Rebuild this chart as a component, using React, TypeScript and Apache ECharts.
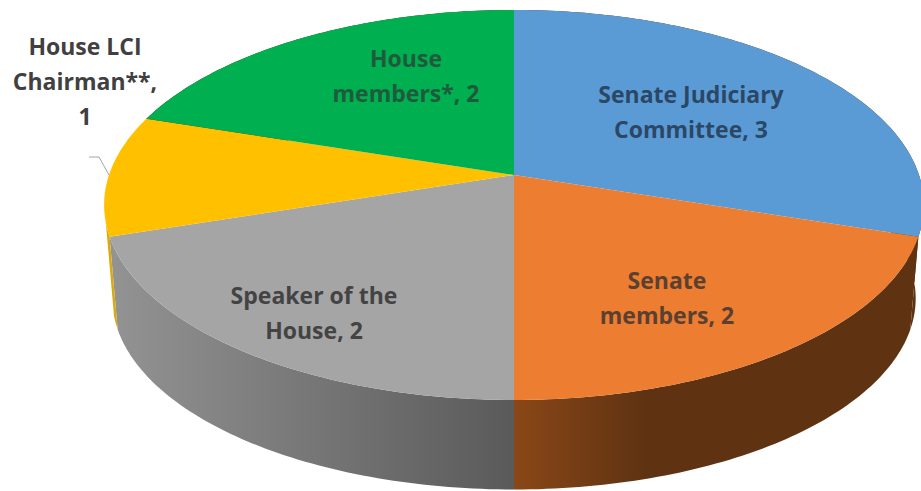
import React, { useEffect, useRef } from "react";
import * as echarts from "echarts";

const categories = [
  "Senate Judiciary Committee",
  "Senate members",
  "Speaker of the House",
  "House LCI Chairman**",
  "House members*",
];
const seats = [3, 2, 2, 1, 2];

const topColors = ["#5b9bd5", "#ed7d31", "#a5a5a5", "#ffc000", "#00b050"];

// Wrapped label text, one entry per slice.
const labelLines = [
  ["Senate Judiciary", "Committee, 3"],
  ["Senate", "members, 2"],
  ["Speaker of the", "House, 2"],
  ["House LCI", "Chairman**,", "1"],
  ["House", "members*, 2"],
];
const labelAnchors = [
  [691, 111],
  [667, 297],
  [314, 312],
  [85, 81],
  [406, 75],
];
const labelInks = [
  "#2b4766",
  "#5a4031",
  "#434343",
  "#404040",
  "#1f5a3c",
];

// Perspective model of the tilted disc: the near rim is magnified, the far rim shrunk.
const CX = 514;
const CY = 175;
const RX = 405;
const RY = 190.4;
const PERSPECTIVE = 0.1538;
// The underside of the disc sits lower and is very slightly smaller.
const DEPTH = 94;
const UNDER_SCALE = 0.98;

const total = seats.reduce((a, b) => a + b, 0);
const startShare = seats.map((_, i) =>
  seats.slice(0, i).reduce((a, b) => a + b, 0) / total
);

function rimPoint(deg: number, under = false): number[] {
  const a = (deg * Math.PI) / 180;
  const near = -Math.cos(a);
  const w = 1 - PERSPECTIVE * near;
  const s = under ? UNDER_SCALE : 1;
  return [
    CX + (s * RX * Math.sin(a)) / w,
    CY + (under ? DEPTH : 0) + (s * RY * near) / w,
  ];
}

function arcPoints(from: number, to: number, under = false): number[][] {
  const pts: number[][] = [];
  const steps = Math.max(2, Math.ceil(to - from));
  for (let i = 0; i <= steps; i++) {
    pts.push(rimPoint(from + ((to - from) * i) / steps, under));
  }
  return pts;
}

function sliceSpan(i: number, value: number): [number, number] {
  const from = startShare[i] * 360;
  return [from, from + (value / total) * 360];
}

function wallFill(i: number): any {
  if (i === 1) {
    return new echarts.graphic.LinearGradient(0, 0, 1, 0, [
      { offset: 0, color: "#8a4717" },
      { offset: 0.32, color: "#5f3312" },
      { offset: 1, color: "#5f3312" },
    ]);
  }
  if (i === 2) {
    return new echarts.graphic.LinearGradient(0, 0, 1, 0, [
      { offset: 0, color: "#939393" },
      { offset: 1, color: "#5a5a5a" },
    ]);
  }
  if (i === 3) return "#d9aa10";
  // The far walls only ever show as a sliver at the right-hand edge.
  return "#5f3312";
}

export default function App() {
  const ref = useRef<HTMLDivElement>(null);

  useEffect(() => {
    document.body.style.margin = "0";
    const chart = echarts.init(ref.current!, undefined, { renderer: "svg" });
    const rows = seats.map((v) => [v]);

    chart.setOption({
      animation: false,
      backgroundColor: "#ffffff",
      series: [
        {
          type: "custom",
          coordinateSystem: "none",
          silent: true,
          data: rows,
          renderItem: (params: any, api: any) => {
            const i = params.dataIndex;
            const [from, span] = sliceSpan(i, api.value(0));
            // Only the first few degrees of the yellow wall clear the top face.
            const to = i === 3 ? from + 4 : span;
            const pts = [...arcPoints(from, to), ...arcPoints(from, to, true).reverse()];
            return {
              type: "polygon",
              shape: { points: pts },
              style: { fill: wallFill(i) },
            };
          },
        },
        {
          type: "custom",
          coordinateSystem: "none",
          silent: true,
          data: rows,
          renderItem: (params: any, api: any) => {
            const i = params.dataIndex;
            const [from, to] = sliceSpan(i, api.value(0));
            return {
              type: "polygon",
              shape: { points: [[CX, CY], ...arcPoints(from, to)] },
              style: { fill: topColors[i] },
            };
          },
        },
        {
          // Labels go last so no slice can cover them.
          type: "custom",
          coordinateSystem: "none",
          silent: true,
          data: rows,
          renderItem: (params: any, api: any) => {
            const i = params.dataIndex;
            const [from, to] = sliceSpan(i, api.value(0));
            const children: any[] = [
              {
                type: "text",
                style: {
                  text: labelLines[i].join("\n"),
                  x: labelAnchors[i][0],
                  y: labelAnchors[i][1],
                  fill: labelInks[i],
                  font: "bold 23px 'Open Sans'",
                  lineHeight: 35,
                  textAlign: "center",
                  textVerticalAlign: "middle",
                },
              },
            ];
            // The one slice whose label sits outside the disc gets a leader line.
            if (i === 3) {
              const end = rimPoint((from + to) / 2);
              children.push({
                type: "polyline",
                shape: {
                  points: [
                    [end[0] - 20, end[1] - 18],
                    [end[0] - 10, end[1] - 18],
                    end,
                  ],
                },
                style: { fill: "none", stroke: "#a0a8a8", lineWidth: 1 },
              });
            }
            return { type: "group", children };
          },
        },
      ],
    });
    return () => chart.dispose();
  }, []);

  return (
    <div
      ref={ref}
      style={{ position: "absolute", left: 0, top: 0, width: 921, height: 491 }}
    />
  );
}
